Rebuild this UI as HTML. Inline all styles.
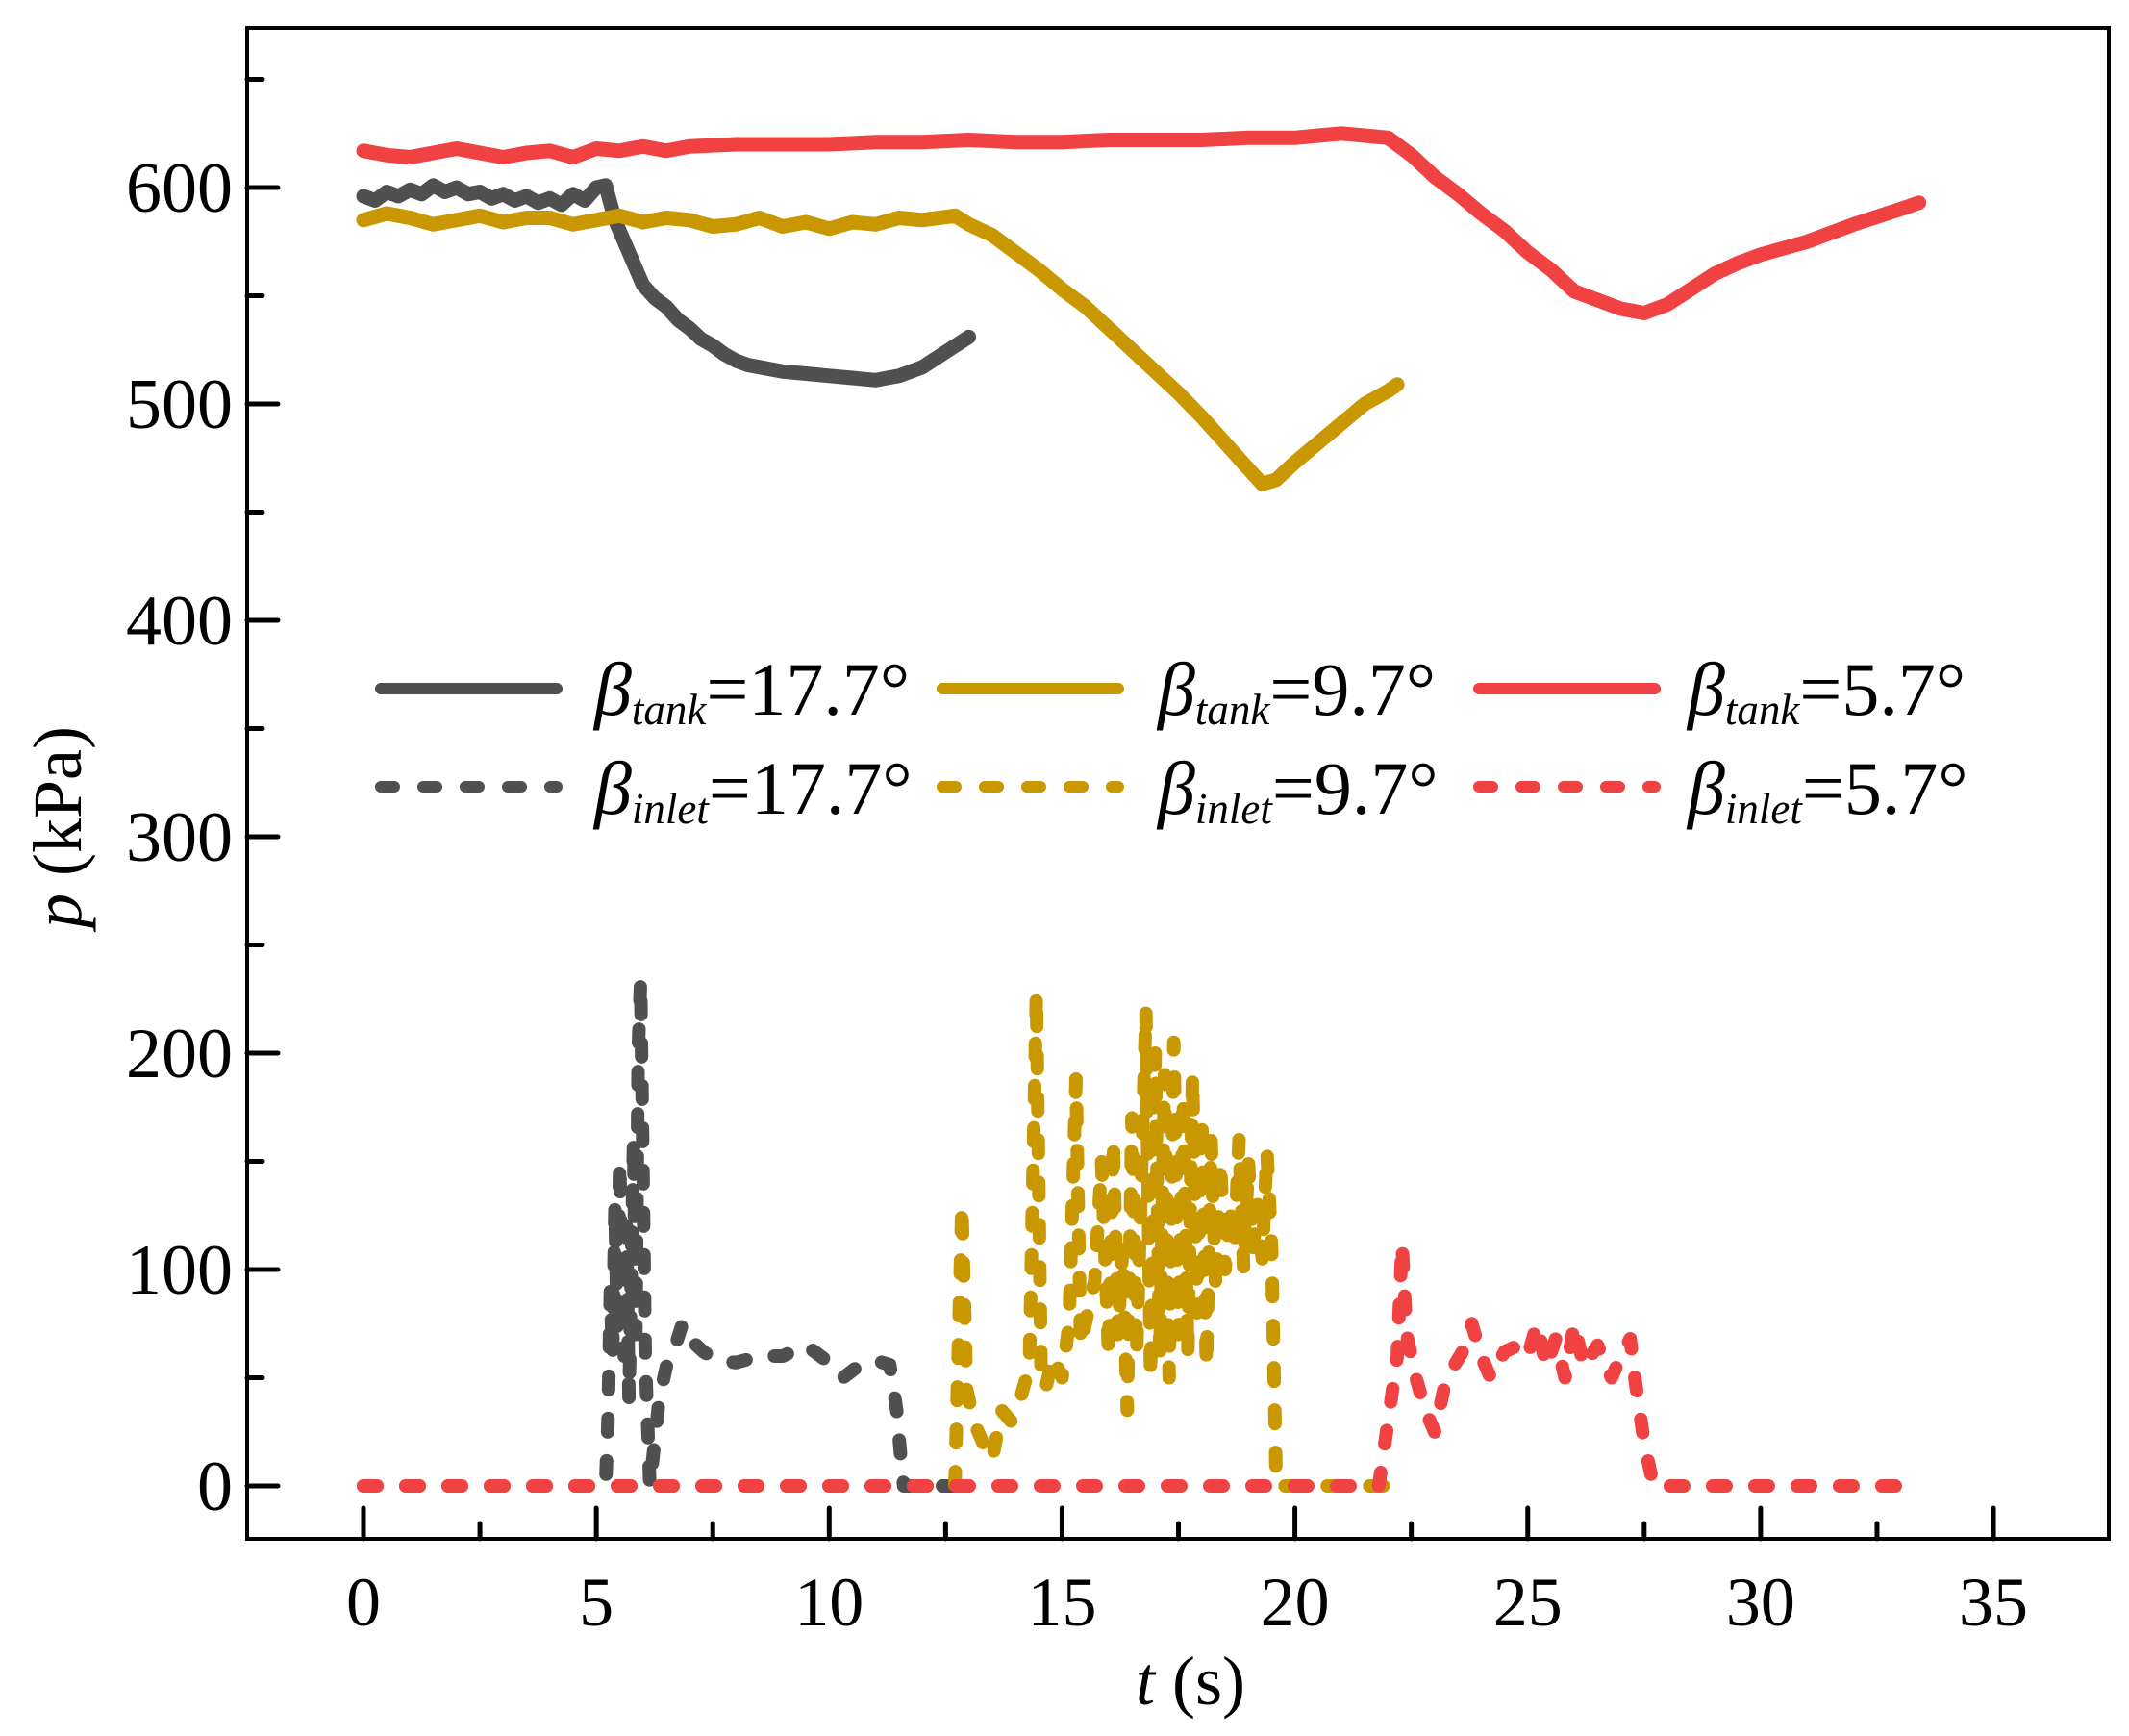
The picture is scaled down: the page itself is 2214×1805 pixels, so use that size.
<!DOCTYPE html>
<html><head><meta charset="utf-8"><style>
html,body{margin:0;padding:0;background:#fff;}
svg{display:block;font-family:"Liberation Serif",serif;}
</style></head><body>
<svg id="chart" width="2214" height="1805" viewBox="0 0 2214 1805" xmlns="http://www.w3.org/2000/svg">
<g id="plot"></g>
<g id="axes"></g>
<text x="1238" y="1772" font-size="72" text-anchor="middle"><tspan font-style="italic">t</tspan> (s)</text>
<text transform="translate(84,860) rotate(-90)" font-size="72" text-anchor="middle"><tspan font-style="italic">p</tspan> (kPa)</text>
<g id="legend"></g>
</svg>
<script>
const xTicks=[0,5,10,15,20,25,30,35];
const yTicks=[0,100,200,300,400,500,600];
const grayTankT=[0,0.25,0.5,0.75,1,1.25,1.5,1.75,2,2.25,2.5,2.75,3,3.25,3.5,3.75,4,4.25,4.5,4.75,5,5.2,5.4,5.6,5.8,6,6.25,6.5,6.75,7,7.25,7.5,7.75,8,8.25,8.5,9,9.5,10,10.5,11,11.5,12,12.5,13];
const grayTankP=[596,594,598,596,599,597,601,598,600,597,598,595,597,594,596,593,595,592,597,594,600,601,585,575,565,555,549,545,539,535,530,527,523,520,518,517,515,514,513,512,511,513,517,524,531];
const goldTankT=[0,0.5,1,1.5,2,2.5,3,3.5,4,4.5,5,5.5,6,6.5,7,7.5,8,8.5,9,9.5,10,10.5,11,11.5,12,12.7,13,13.5,14,14.5,15,15.5,16,16.5,17,17.5,18,18.5,19,19.3,19.6,20,20.5,21,21.5,22,22.2];
const goldTankP=[585,588,586,583,585,587,584,586,586,583,585,587,584,586,585,582,583,586,582,584,581,584,583,586,585,587,583,578,570,562,553,545,535,525,515,505,494,482,470,463,465,473,482,491,500,506,509];
const redTankT=[0,0.5,1,1.5,2,2.5,3,3.5,4,4.5,5,5.5,6,6.5,7,8,9,10,11,12,13,14,15,16,17,18,19,20,20.5,21,21.5,22,22.5,23,23.5,24,24.5,25,25.5,26,26.5,27,27.5,28,28.5,29,29.5,30,31,32,33,33.4];
const redTankP=[617,615,614,616,618,616,614,616,617,614,618,617,619,617,619,620,620,620,621,621,622,621,621,622,622,622,623,623,624,625,624,623,615,605,597,588,580,570,562,552,548,544,542,546,553,560,565,569,575,583,590,593];
const grayInT=[0,5.2,5.25,5.3,5.35,5.4,5.45,5.5,5.55,5.6,5.65,5.7,5.75,5.8,5.85,5.9,5.95,6.0,6.05,6.1,6.15,6.25,6.35,6.5,6.7,6.85,7.0,7.3,7.6,8.0,8.5,9.0,9.5,10.0,10.3,10.6,11.0,11.3,11.45,11.55,11.6,13];
const grayInP=[0,0,30,90,60,130,70,150,100,60,120,40,100,160,70,200,234,150,60,30,0,20,40,55,65,75,68,62,58,57,60,60,65,57,50,55,58,56,35,10,0,0];
const goldInT=[0,12.7,12.85,12.95,13.1,13.3,13.5,13.7,13.9,14.1,14.3,14.45,14.55,14.65,14.8,15.0,15.15,15.3,15.4,15.55,15.7,15.85,16.0,16.1,16.2,16.3,16.4,16.5,16.6,16.7,16.8,16.9,17.0,17.1,17.2,17.3,17.4,17.5,17.6,17.7,17.8,17.9,18.0,18.1,18.2,18.3,18.4,18.5,18.6,18.7,18.8,18.9,19.0,19.1,19.2,19.3,19.4,19.5,19.6,19.7,22.2];
const goldInP=[0,0,130,45,30,20,12,35,30,40,55,228,50,45,60,50,75,188,65,80,95,150,60,160,70,110,35,170,60,140,220,50,200,60,190,50,205,70,180,60,190,80,170,55,160,90,150,100,130,110,160,100,150,110,130,105,155,110,0,0,0];
const redInT=[0,21.8,22.0,22.2,22.3,22.4,22.6,22.8,23.0,23.2,23.4,23.6,23.8,24.0,24.2,24.5,24.8,25.0,25.2,25.4,25.6,25.8,26.0,26.2,26.5,26.8,27.0,27.2,27.3,27.5,27.7,33.4];
const redInP=[0,0,30,60,112,70,50,35,25,45,55,62,75,60,50,62,65,60,75,55,68,50,75,55,65,50,60,68,50,20,0,0];
const legendLabels=["17.7°","9.7°","5.7°"];

const NS="http://www.w3.org/2000/svg";
const X=t=>378+48.43*t;
const Y=p=>1545-2.25*p;
function mk(tag,attrs,parent){const e=document.createElementNS(NS,tag);for(const k in attrs)e.setAttribute(k,attrs[k]);parent.appendChild(e);return e;}
const plot=document.getElementById('plot');
const axes=document.getElementById('axes');
const legend=document.getElementById('legend');
const GRAY="#505050",GOLD="#c99700",RED="#f04242";
function series(T,P,color,dashed,name){
  const d=T.map((t,i)=>(i?'L':'M')+X(t).toFixed(1)+' '+Y(P[i]).toFixed(1)).join(' ');
  const a={d:d,fill:'none',stroke:color,'stroke-width':dashed?14:15,'stroke-linejoin':'round','stroke-linecap':'round'};
  if(dashed)a['stroke-dasharray']='14 30';
  const e=mk('path',a,plot);
  
  
}
series(grayTankT,grayTankP,GRAY,false,'series-tank-17-7');
series(goldTankT,goldTankP,GOLD,false,'series-tank-9-7');
series(redTankT,redTankP,RED,false,'series-tank-5-7');
series(grayInT,grayInP,GRAY,true,'series-inlet-17-7');
series(goldInT,goldInP,GOLD,true,'series-inlet-9-7');
series(redInT,redInP,RED,true,'series-inlet-5-7');

const fr=mk('rect',{x:257,y:29,width:1936,height:1571,fill:'none',stroke:'#000','stroke-width':4},axes);


for(let v=0;v<=35;v+=2.5){
  const major=(v%5===0);
  const tk=mk('line',{x1:X(v),x2:X(v),y1:1600,y2:1600-(major?32:16),stroke:'#000','stroke-width':5,'stroke-linecap':'round'},axes);
  
  
}
xTicks.forEach(v=>{
  const t=mk('text',{x:X(v),y:1690,'font-size':72,'text-anchor':'middle'},axes);t.textContent=v;
  
  
});
for(let v=0;v<=650;v+=50){
  const major=(v%100===0);
  const tk=mk('line',{x1:257,x2:257+(major?32:16),y1:Y(v),y2:Y(v),stroke:'#000','stroke-width':5,'stroke-linecap':'round'},axes);
  
  
}
yTicks.forEach(v=>{
  const t=mk('text',{x:242,y:Y(v)+25,'font-size':74,'text-anchor':'end'},axes);t.textContent=v;
  
  
});

const cols=[{lx:396,tx:618,c:GRAY},{lx:980,tx:1204,c:GOLD},{lx:1538,tx:1755,c:RED}];
cols.forEach((col,i)=>{
  [0,1].forEach(r=>{
    const ly=r?818:716;
    const ln=mk('line',{x1:col.lx,x2:col.lx+183,y1:ly,y2:ly,stroke:col.c,'stroke-width':12,'stroke-linecap':'round'},legend);
    if(r)ln.setAttribute('stroke-dasharray','14 30');
    
    
    const tx=mk('text',{x:col.tx,y:r?846:743,'font-size':78},legend);
    
    
    const b=mk('tspan',{'font-style':'italic'},tx);b.textContent='β';
    const s=mk('tspan',{'font-style':'italic','font-size':45,dy:10},tx);s.textContent=r?'inlet':'tank';
    const v=mk('tspan',{dy:-10},tx);v.textContent='='+legendLabels[i];
  });
});
</script>
</body></html>
